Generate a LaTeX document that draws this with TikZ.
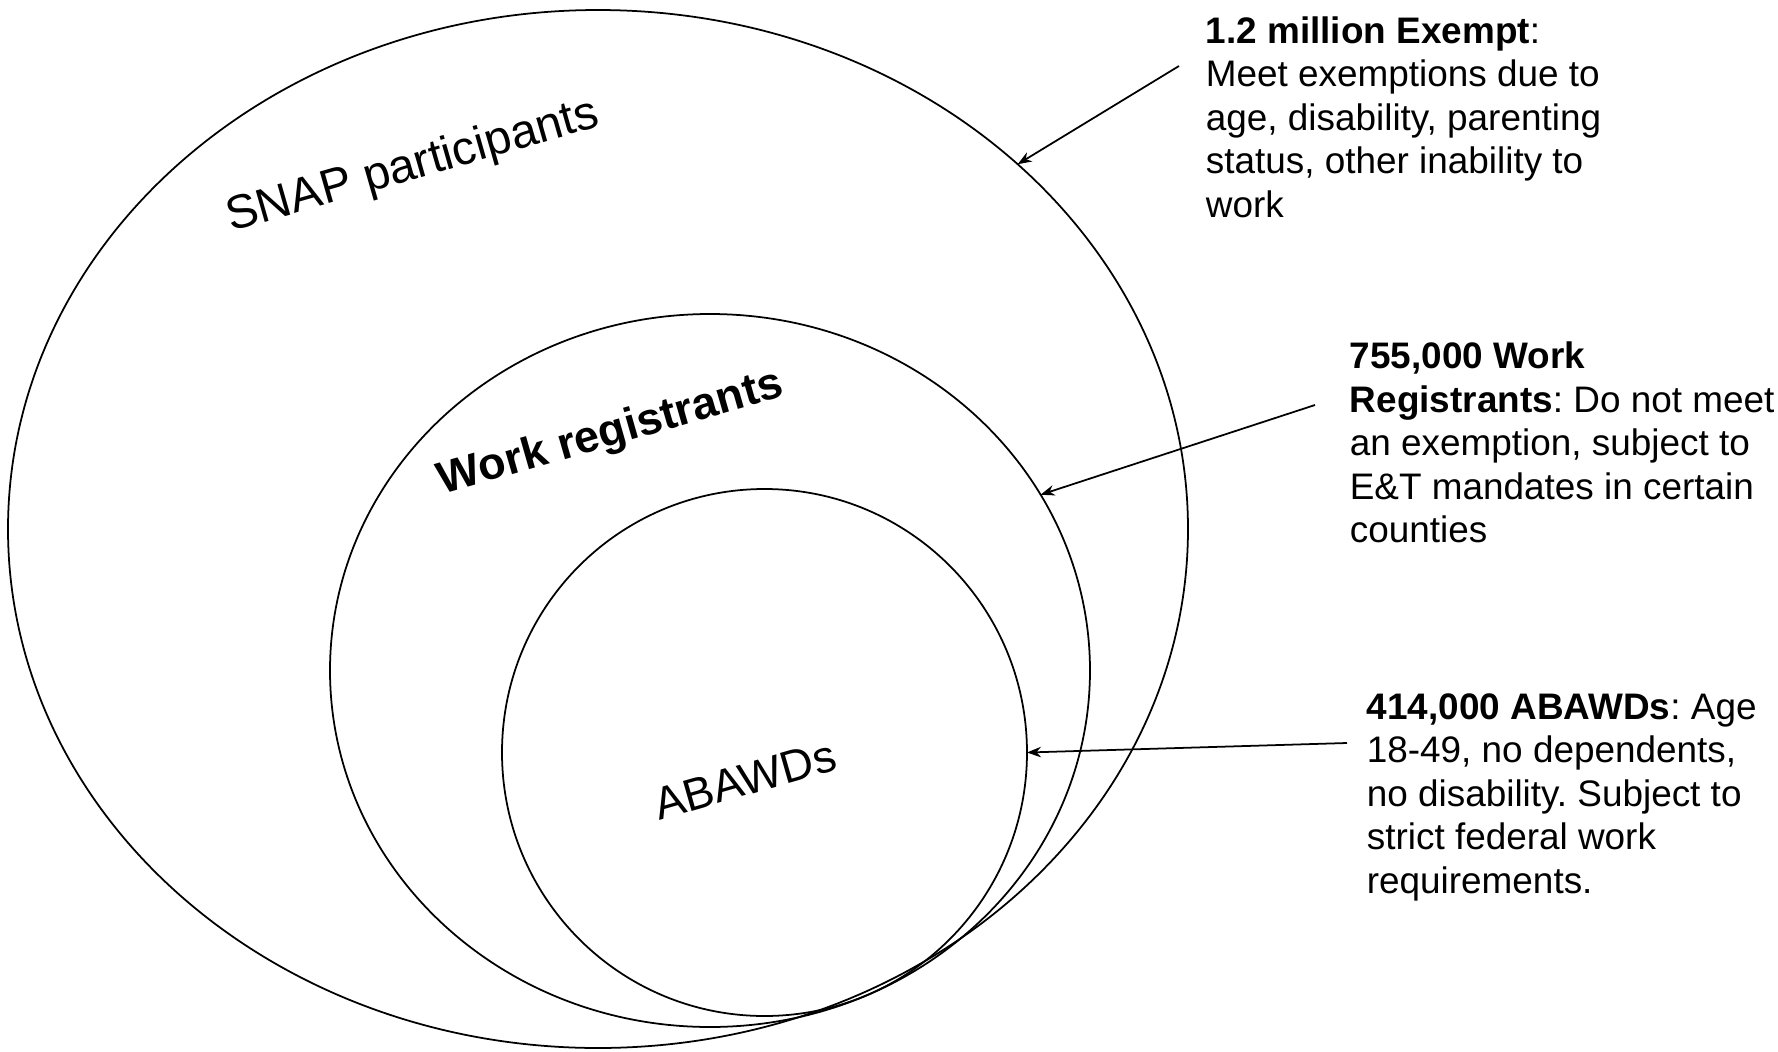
\documentclass[tikz,border=0pt]{standalone}
\usepackage{fontspec}
\setmainfont{Liberation Sans}
\usetikzlibrary{shapes.geometric,arrows.meta}
\frenchspacing

\begin{document}
\begin{tikzpicture}[x=0.1mm, y=-0.1mm, >={Stealth[length=4pt,width=3pt]}, line width=0.5pt,
  ring/.style={draw, ellipse, inner sep=0pt, outer sep=0pt},
  tag/.style={rotate=16, inner sep=0pt},
  note/.style={align=left, anchor=base west, inner sep=0pt, font=\fontsize{10.5}{12.4}\selectfont}]
\useasboundingbox (0,0) rectangle (1778,1052);
% nested sets
\node[ring, minimum width=118mm, minimum height=103.8mm] (snap) at (598,529) {};
\node[ring, minimum width=76mm, minimum height=71.3mm] (work) at (710,670.5) {};
\node[ring, minimum width=52.5mm, minimum height=52.7mm] (abawd) at (764.5,752.5) {};
\node[tag, font=\fontsize{13.5}{15}\selectfont] (snap-label) at (413,167) {SNAP participants};
\node[tag, font=\bfseries\fontsize{12.8}{15}\selectfont] (work-label) at (611,434) {Work registrants};
\node[tag, font=\fontsize{12.9}{15}\selectfont] (abawd-label) at (745,780) {ABAWDs};
% notes on the right (anchored at the last line)
\node[note] (exempt-note) at (1205,217.4) {\textbf{1.2 million Exempt}:\\Meet exemptions due to\\age, disability, parenting\\status, other inability to\\work};
\node[note] (work-note) at (1349,542.9) {\textbf{755,000 Work}\\\textbf{Registrants}: Do not meet\\an exemption, subject to\\E\&T mandates in certain\\counties};
\node[note] (abawd-note) at (1366,893.4) {\textbf{414,000 ABAWDs}: Age\\18-49, no dependents,\\no disability. Subject to\\strict federal work\\requirements.};
\coordinate (exempt-tail) at (1179,66);
\coordinate (work-tail) at (1315,405);
\coordinate (abawd-tail) at (1347,743);
\draw[->] (exempt-tail) -- (snap.41);
\draw[->] (work-tail) -- (work.28);
\draw[->] (abawd-tail) -- (abawd.east);
\end{tikzpicture}
\end{document}
